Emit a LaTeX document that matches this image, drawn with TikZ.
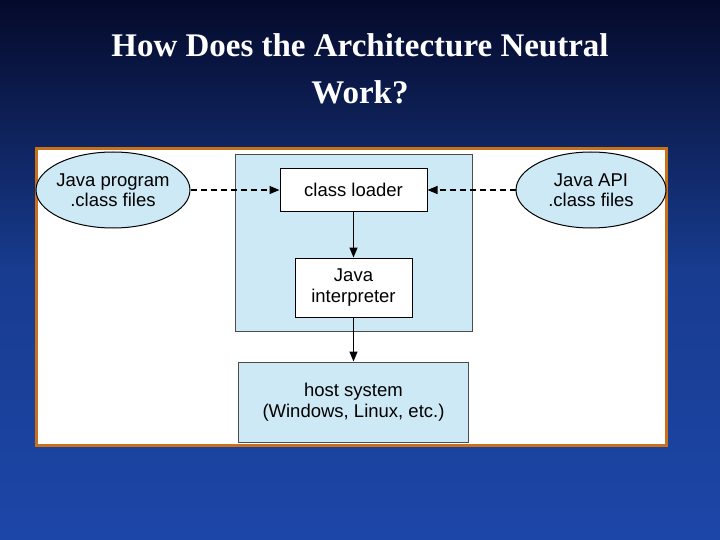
\documentclass[tikz,border=0pt]{standalone}
\usepackage{fontspec}
\setmainfont{Liberation Serif}
\newfontfamily\sansf{Liberation Sans}
\usetikzlibrary{shapes.geometric,arrows.meta}
\definecolor{bgtop}{HTML}{050A2A}
\definecolor{bgbot}{HTML}{1C46A8}
\definecolor{lblue}{HTML}{CDE9F6}
\definecolor{frame}{HTML}{C8701A}
\tikzset{
  lbl/.style={font=\sansf\fontsize{18.5}{20.5}\selectfont, align=center},
  wbox/.style={draw=black, fill=white, line width=1pt},
  bbox/.style={draw=black!70, fill=lblue, line width=1pt},
  ell/.style={ellipse, draw=black, fill=lblue, line width=1pt},
  dasharrow/.style={dash pattern=on 6pt off 4pt, line width=1.3pt, -{Triangle[length=10pt,width=8pt]}},
  solidarrow/.style={line width=1.3pt, -{Triangle[length=10pt,width=8pt]}}
}
\begin{document}
\begin{tikzpicture}[x=1pt,y=-1pt]
\useasboundingbox (0,0) rectangle (720,540);
\shade[top color=bgtop, bottom color=bgbot, middle color=bgbot!85!black] (0,0) rectangle (720,540);
\node[text=white, font=\bfseries\fontsize{33}{47}\selectfont, align=center] (title) at (360,69) {How Does the Architecture Neutral\\Work?};
\node[draw=frame, line width=3pt, fill=white, minimum width=630, minimum height=296, inner sep=0] (panel) at (351,297) {};
\node[bbox, minimum width=237, minimum height=176, inner sep=0] (jvm) at (353.5,243) {};
\node[wbox, lbl, minimum width=147, minimum height=43, inner sep=0] (loader) at (353.5,190) {class loader};
\node[wbox, lbl, minimum width=117, minimum height=59, inner sep=0] (interp) at (353.5,287.5) {Java\\interpreter};
\node[bbox, lbl, minimum width=230, minimum height=80, inner sep=0] (host) at (353.5,402) {host system\\(Windows, Linux, etc.)};
\node[ell, minimum width=154, minimum height=76, inner sep=0] (prog) at (113,190) {};
\node[lbl] (progt) at (prog.center) {Java program\\.class files};
\node[ell, minimum width=150, minimum height=76, inner sep=0] (api) at (591,190) {};
\node[lbl] (apit) at (api.center) {Java API\\.class files};
\draw[dasharrow] (prog.east) -- (loader.west);
\draw[dasharrow] (api.west) -- (loader.east);
\draw[solidarrow] (loader.south) -- (interp.north);
\draw[solidarrow] (interp.south) -- (host.north);
\end{tikzpicture}
\end{document}
